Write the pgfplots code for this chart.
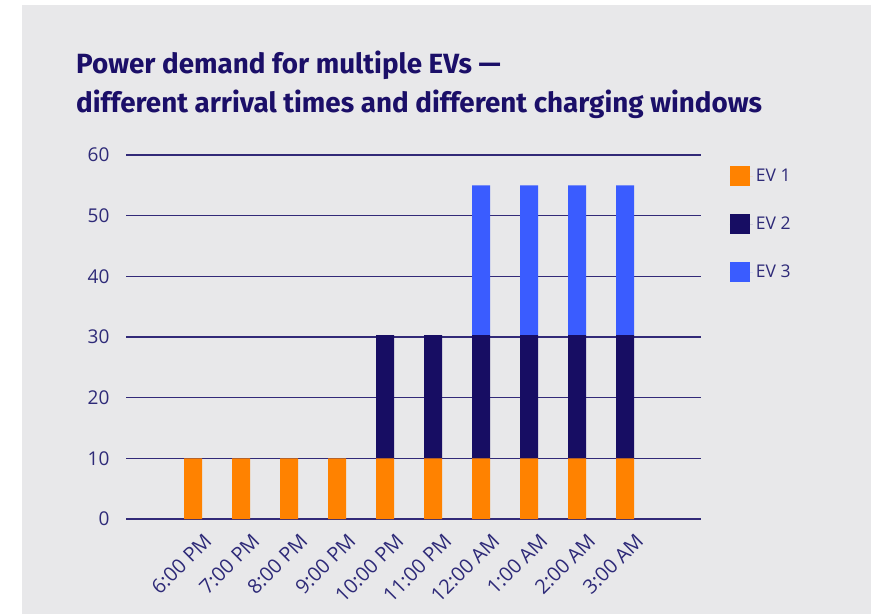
\documentclass[border=0pt]{standalone}
\usepackage{fontspec}
\setmainfont{Open Sans}
\newfontfamily\titlefont{Fira Sans}
\usepackage{pgfplots}
\pgfplotsset{compat=1.18}
\definecolor{bg}{HTML}{E8E8EA}
\definecolor{evone}{HTML}{FF8200}
\definecolor{evtwo}{HTML}{170D63}
\definecolor{evthree}{HTML}{3A5CFF}
\definecolor{titlec}{HTML}{1B0F68}
\definecolor{textc}{HTML}{2E2A78}
\definecolor{gridc}{RGB}{50,42,120}
\begin{document}
\begin{tikzpicture}[x=1pt,y=1pt]
\path[use as bounding box] (0,0) rectangle (884,614);
\fill[bg] (22,0) rectangle (871,609);
\node[anchor=base west,inner sep=0pt,text=titlec,font=\titlefont\bfseries\fontsize{27.8}{33}\selectfont] at (76,540) {Power demand for multiple EVs —};
\node[anchor=base west,inner sep=0pt,text=titlec,font=\titlefont\bfseries\fontsize{27.8}{33}\selectfont] at (76,501) {different arrival times and different charging windows};
\begin{axis}[
  at={(126pt,95pt)}, anchor=south west,
  scale only axis, width=575pt, height=364pt,
  ybar stacked, bar width=18pt,
  xmin=-1.4, xmax=10.58, ymin=0, ymax=60,
  ytick={0,10,...,60},
  xtick={0,...,9},
  xticklabels={6:00 PM,7:00 PM,8:00 PM,9:00 PM,10:00 PM,11:00 PM,12:00 AM,1:00 AM,2:00 AM,3:00 AM},
  axis line style={draw=none},
  major tick length=0pt,
  ymajorgrids, grid style={gridc, line width=1.2pt},
  tick label style={text=textc},
  /pgf/number format/assume math mode=true,
  yticklabel style={font=\fontsize{19}{22}\selectfont, xshift=-13pt},
  xticklabel style={font=\fontsize{20}{23}\selectfont, rotate=45, anchor=east, inner sep=0pt, xshift=-2.5pt, yshift=-23.3pt},
  legend style={at={(1.05,0.97)}, anchor=north west, draw=none, fill=none,
    inner sep=0pt, font=\fontsize{17.5}{20}\selectfont, text=textc,
    /tikz/every even column/.append style={column sep=0pt},
    nodes={inner sep=3pt},
    row sep=28pt},
  legend cell align=left,
  legend image code/.code={\fill[#1] (0pt,-10pt) rectangle (20pt,10pt); \path (0pt,0pt) -- (23pt,0pt);},
]
\addplot[fill=evone, draw=none] coordinates {(0,10) (1,10) (2,10) (3,10) (4,10) (5,10) (6,10) (7,10) (8,10) (9,10)};
\addplot[fill=evtwo, draw=none] coordinates {(0,0) (1,0) (2,0) (3,0) (4,20.3) (5,20.3) (6,20.3) (7,20.3) (8,20.3) (9,20.3)};
\addplot[fill=evthree, draw=none] coordinates {(0,0) (1,0) (2,0) (3,0) (4,0) (5,0) (6,24.7) (7,24.7) (8,24.7) (9,24.7)};
\legend{EV 1, EV 2, EV 3}
\end{axis}
\end{tikzpicture}
\end{document}
